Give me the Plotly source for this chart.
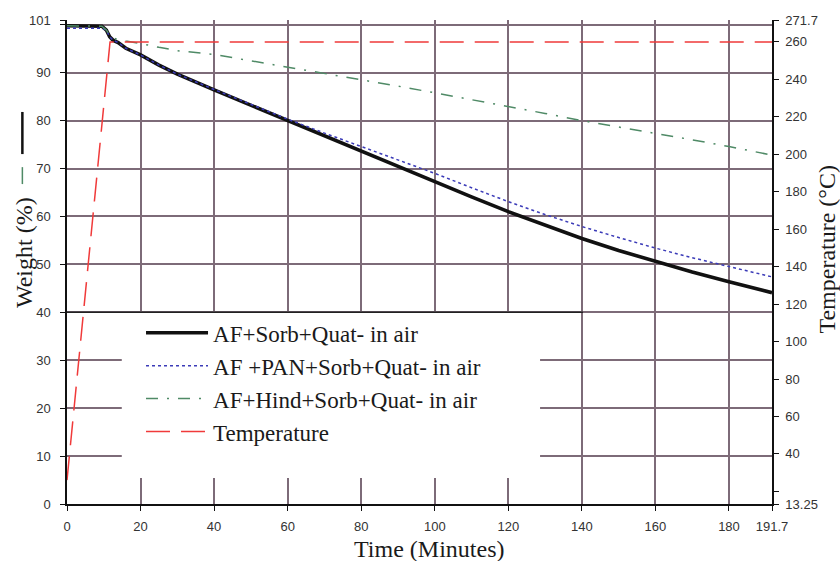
import plotly.graph_objects as go

# ---- data ----
time_w = [0, 5, 9.5, 10.7, 11.6, 12.5, 13.9, 16, 20, 25, 30, 40, 50, 60, 70, 80,
          90, 100, 110, 120, 130, 140, 150, 160, 170, 180, 191.7]
w_af = [99.8, 99.8, 99.7, 98.9, 97.5, 96.8, 96.3, 95.1, 93.7, 91.6, 89.7, 86.4, 83.2,
        80.0, 76.8, 73.5, 70.4, 67.3, 64.1, 61.0, 58.1, 55.4, 52.9, 50.6, 48.4, 46.4, 44.1]
w_pan = [99.3, 99.3, 99.3, 98.9, 97.5, 96.8, 96.3, 95.1, 93.7, 91.6, 89.7, 86.5, 83.4,
         80.3, 77.4, 74.6, 71.8, 69.0, 66.0, 63.1, 60.4, 57.9, 55.6, 53.4, 51.4, 49.5, 47.4]
w_hind = [99.8, 99.8, 99.7, 98.9, 97.9, 97.3, 96.9, 96.6, 96.1, 95.3, 94.6, 93.8, 92.5,
          91.1, 89.8, 88.6, 87.2, 85.8, 84.4, 83.0, 81.5, 80.0, 78.7, 77.4, 76.0, 74.6, 72.8]
time_t = [0, 11.7, 191.7]
temp = [26, 260, 260]

series_names = ["AF+Sorb+Quat- in air", "AF +PAN+Sorb+Quat- in air",
                "AF+Hind+Sorb+Quat- in air", "Temperature"]

x_ticks = [0, 20, 40, 60, 80, 100, 120, 140, 160, 180, 191.7]
x_ticktext = ["0", "20", "40", "60", "80", "100", "120", "140", "160", "180", "191.7"]
yl_ticks = [0, 10, 20, 30, 40, 50, 60, 70, 80, 90, 100, 101]
yl_ticktext = ["0", "10", "20", "30", "40", "50", "60", "70", "80", "90", "", "101"]
yr_ticks = [13.25, 20, 40, 60, 80, 100, 120, 140, 160, 180, 200, 220, 240, 260, 271.7]
yr_ticktext = ["13.25", "", "40", "60", "80", "100", "120", "140", "160", "180",
               "200", "220", "240", "260", "271.7"]

GRID = "#7d6b78"
SERIF = "Liberation Serif"
SANS = "Liberation Sans"
TICKFONT = dict(family=SANS, size=13, color="#333")

fig = go.Figure()
fig.add_trace(go.Scatter(x=time_w, y=w_af, name=series_names[0], mode="lines",
                         line=dict(color="#111111", width=3.6)))
fig.add_trace(go.Scatter(x=time_w, y=w_pan, name=series_names[1], mode="lines",
                         line=dict(color="#3b3bb8", width=1.5, dash="3px,3px")))
fig.add_trace(go.Scatter(x=time_w, y=w_hind, name=series_names[2], mode="lines",
                         line=dict(color="#4f8a66", width=1.5, dash="12px,9px,2px,9px")))
fig.add_trace(go.Scatter(x=time_t, y=temp, name=series_names[3], mode="lines",
                         yaxis="y2", line=dict(color="#f03a3a", width=1.5, dash="24px,11px")))

fig.update_layout(
    width=840, height=561,
    margin=dict(l=67, r=68, t=20, b=57, pad=0),
    paper_bgcolor="white", plot_bgcolor="white",
    showlegend=True,
    legend=dict(x=0.105, y=0.398, xanchor="left", yanchor="top",
                bgcolor="rgba(0,0,0,0)", borderwidth=0, itemwidth=62,
                font=dict(family=SERIF, size=23, color="#1a1a1a"),
                tracegroupgap=0),
    xaxis=dict(range=[0, 191.7], tickvals=x_ticks, ticktext=x_ticktext,
               showgrid=True, gridcolor=GRID, gridwidth=1.5,
               showline=True, linecolor="#111", linewidth=1.5,
               ticks="outside", ticklen=5, tickcolor="#111",
               ticklabelstandoff=5, tickfont=TICKFONT,
               zeroline=False, automargin=False),
    yaxis=dict(range=[0, 101], tickvals=yl_ticks, ticktext=yl_ticktext,
               showgrid=True, gridcolor=GRID, gridwidth=1.5,
               showline=True, linecolor="#111", linewidth=1.5,
               ticks="outside", ticklen=5, tickcolor="#111",
               ticklabelstandoff=7, tickfont=TICKFONT,
               zeroline=False, automargin=False),
    yaxis2=dict(range=[13.25, 271.7], overlaying="y", side="right",
                tickvals=yr_ticks, ticktext=yr_ticktext,
                showgrid=False, showline=True, linecolor="#111", linewidth=1.5,
                ticks="outside", ticklen=5, tickcolor="#111",
                ticklabelstandoff=4, tickfont=TICKFONT,
                zeroline=False, automargin=False),
)

# white area behind the legend (covers gridlines as in the reference)
fig.add_shape(type="rect", xref="paper", yref="paper",
              x0=0.0777, x1=0.671, y0=0.0537, y1=0.3946,
              fillcolor="white", line=dict(width=0), layer="above")
# dark top edge of the legend area along the 40 % gridline
fig.add_shape(type="line", xref="paper", yref="y", x0=0, x1=0.732, y0=40, y1=40,
              line=dict(color="#222", width=1.5), layer="above")
# axis-symbol marks beside the left title
fig.add_shape(type="line", xref="paper", yref="paper", x0=-0.0633, x1=-0.0633,
              y0=0.723, y1=0.81, line=dict(color="#111", width=2.5))
fig.add_shape(type="line", xref="paper", yref="paper", x0=-0.0633, x1=-0.0633,
              y0=0.661, y1=0.696, line=dict(color="#4f8a66", width=1.5))

# axis titles
fig.add_annotation(text="Time (Minutes)", xref="paper", yref="paper",
                   x=0.5135, y=-0.092, xanchor="center", yanchor="middle",
                   showarrow=False,
                   font=dict(family=SERIF, size=24, color="#1a1a1a"))
fig.add_annotation(text="Weight (%)", xref="paper", yref="paper",
                   x=-0.06, y=0.52, xanchor="center", yanchor="middle",
                   textangle=-90, showarrow=False,
                   font=dict(family=SERIF, size=24, color="#1a1a1a"))
fig.add_annotation(text="Temperature (°C)", xref="paper", yref="paper",
                   x=1.0775, y=0.527, xanchor="center", yanchor="middle",
                   textangle=-90, showarrow=False,
                   font=dict(family=SERIF, size=24, color="#1a1a1a"))

fig.write_html("out.html", config={"displayModeBar": False},
               post_script="document.body.style.margin='0px';"
                           "document.body.style.padding='0px';")
